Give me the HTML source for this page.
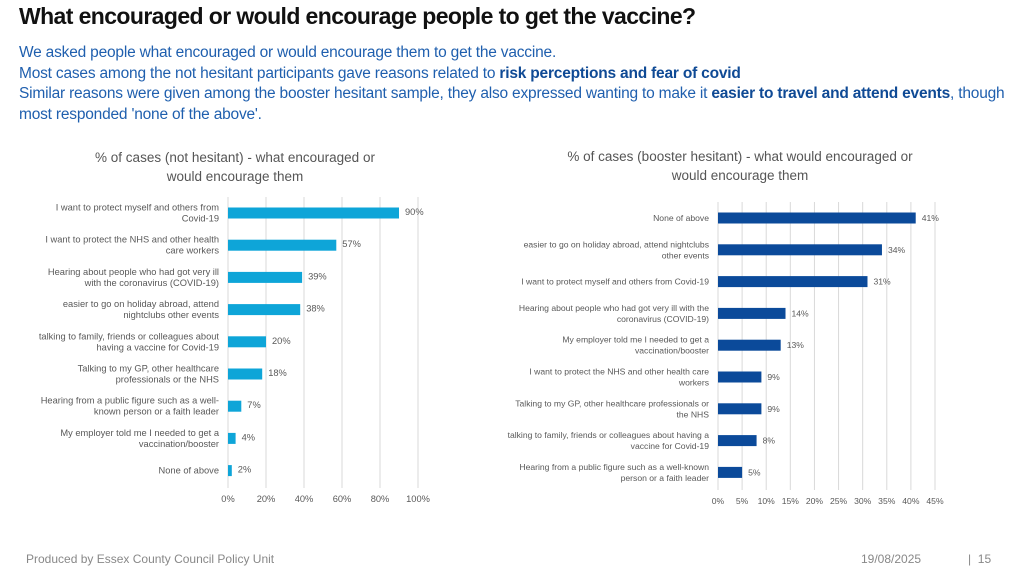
<!DOCTYPE html>
<html><head><meta charset="utf-8">
<style>
body{margin:0;width:1024px;height:576px;background:#fff;font-family:"Liberation Sans",sans-serif;position:relative;overflow:hidden}
.title{position:absolute;left:19px;top:3px;font-size:23px;font-weight:bold;color:#111;letter-spacing:-0.6px}
.intro{position:absolute;left:19px;top:43px;width:990px;font-size:15.5px;line-height:20.5px;color:#1f5fae;letter-spacing:-0.2px}
.intro b{color:#0f4a95}
.ct{position:absolute;font-size:13.5px;color:#555;text-align:center;line-height:19px}
.foot{position:absolute;top:552px;font-size:12px;color:#888}
svg{position:absolute;left:0;top:0}
</style></head><body>
<div class="title">What encouraged or would encourage people to get the vaccine?</div>
<div class="intro">We asked people what encouraged or would encourage them to get the vaccine.<br>Most cases among the not hesitant participants gave reasons related to <b>risk perceptions and fear of covid</b><br>Similar reasons were given among the booster hesitant sample, they also expressed wanting to make it <b>easier to travel and attend events</b>, though most responded 'none of the above'.</div>
<div class="ct" style="left:60px;top:148px;width:350px">% of cases (not hesitant) - what encouraged or<br>would encourage them</div>
<div class="ct" style="left:545px;top:147px;width:390px">% of cases (booster hesitant) - what would encouraged or<br>would encourage them</div>
<svg id="chart" width="1024" height="576"></svg>
<div class="foot" style="left:26px">Produced by Essex County Council Policy Unit</div>
<div class="foot" style="left:861px">19/08/2025</div>
<div class="foot" style="left:968px">|&nbsp;&nbsp;15</div>
<script>
const leftCategories=[["I want to protect myself and others from","Covid-19"],["I want to protect the NHS and other health","care workers"],["Hearing about people who had got very ill","with the coronavirus (COVID-19)"],["easier to go on holiday abroad, attend","nightclubs other events"],["talking to family, friends or colleagues about","having a vaccine for Covid-19"],["Talking to my GP, other healthcare","professionals or the NHS"],["Hearing from a public figure such as a well-","known person or a faith leader"],["My employer told me I needed to get a","vaccination/booster"],["None of above"]];
const leftValues=[90,57,39,38,20,18,7,4,2];
const leftTicks=[0,20,40,60,80,100];
const rightCategories=[["None of above"],["easier to go on holiday abroad, attend nightclubs","other events"],["I want to protect myself and others from Covid-19"],["Hearing about people who had got very ill with the","coronavirus (COVID-19)"],["My employer told me I needed to get a","vaccination/booster"],["I want to protect the NHS and other health care","workers"],["Talking to my GP, other healthcare professionals or","the NHS"],["talking to family, friends or colleagues about having a","vaccine for Covid-19"],["Hearing from a public figure such as a well-known","person or a faith leader"]];
const rightValues=[41,34,31,14,13,9,9,8,5];
const rightTicks=[0,5,10,15,20,25,30,35,40,45];
const svg=document.getElementById('chart');
const NS='http://www.w3.org/2000/svg';
function mk(t,a){const e=document.createElementNS(NS,t);for(const k in a)e.setAttribute(k,a[k]);svg.appendChild(e);return e;}
function draw(o){
  const x=v=>o.x0+(v-o.min)/(o.max-o.min)*(o.x1-o.x0);
  const y=i=>o.y0+i*o.step;
  o.ticks.forEach(t=>{
    const g=mk('line',{x1:x(t),x2:x(t),y1:o.gTop,y2:o.gBot,stroke:'#d9d9d9','stroke-width':1});
    
    
    const tl=mk('text',{x:x(t),y:o.tickY,'text-anchor':'middle','font-size':o.fs,fill:'#595959'});
    tl.textContent=t+'%';
    
    
  });
  o.cats.forEach((c,i)=>{
    const cy=y(i);
    const lab=mk('text',{x:o.labX,y:cy-(c.length-1)*5.5+3,'text-anchor':'end','font-size':o.fs,fill:'#595959'});
    
    
    c.forEach((ln,j)=>{const ts=document.createElementNS(NS,'tspan');ts.setAttribute('x',o.labX);ts.setAttribute('dy',j?11:0);ts.textContent=ln;lab.appendChild(ts);});
    const b=mk('rect',{x:x(0),y:cy-5.5,width:x(o.vals[i])-x(0),height:11,fill:o.color});
    
    
    const v=mk('text',{x:x(o.vals[i])+6,y:cy+o.vOff,'font-size':o.fs,fill:'#595959'});
    v.textContent=o.vals[i]+'%';
    
    
  });
}
draw({id:'not-hesitant',cats:leftCategories,vals:leftValues,ticks:leftTicks,min:0,max:100,x0:228,x1:418,y0:213,step:32.2,gTop:197,gBot:488,tickY:502,labX:219,color:'#0ea5d8',fs:9.3,vOff:2});
draw({id:'booster-hesitant',cats:rightCategories,vals:rightValues,ticks:rightTicks,min:0,max:45,x0:718,x1:935,y0:218,step:31.8,gTop:202,gBot:490,tickY:504,labX:709,color:'#0b4a9a',fs:8.6,vOff:3});
</script>
</body></html>
